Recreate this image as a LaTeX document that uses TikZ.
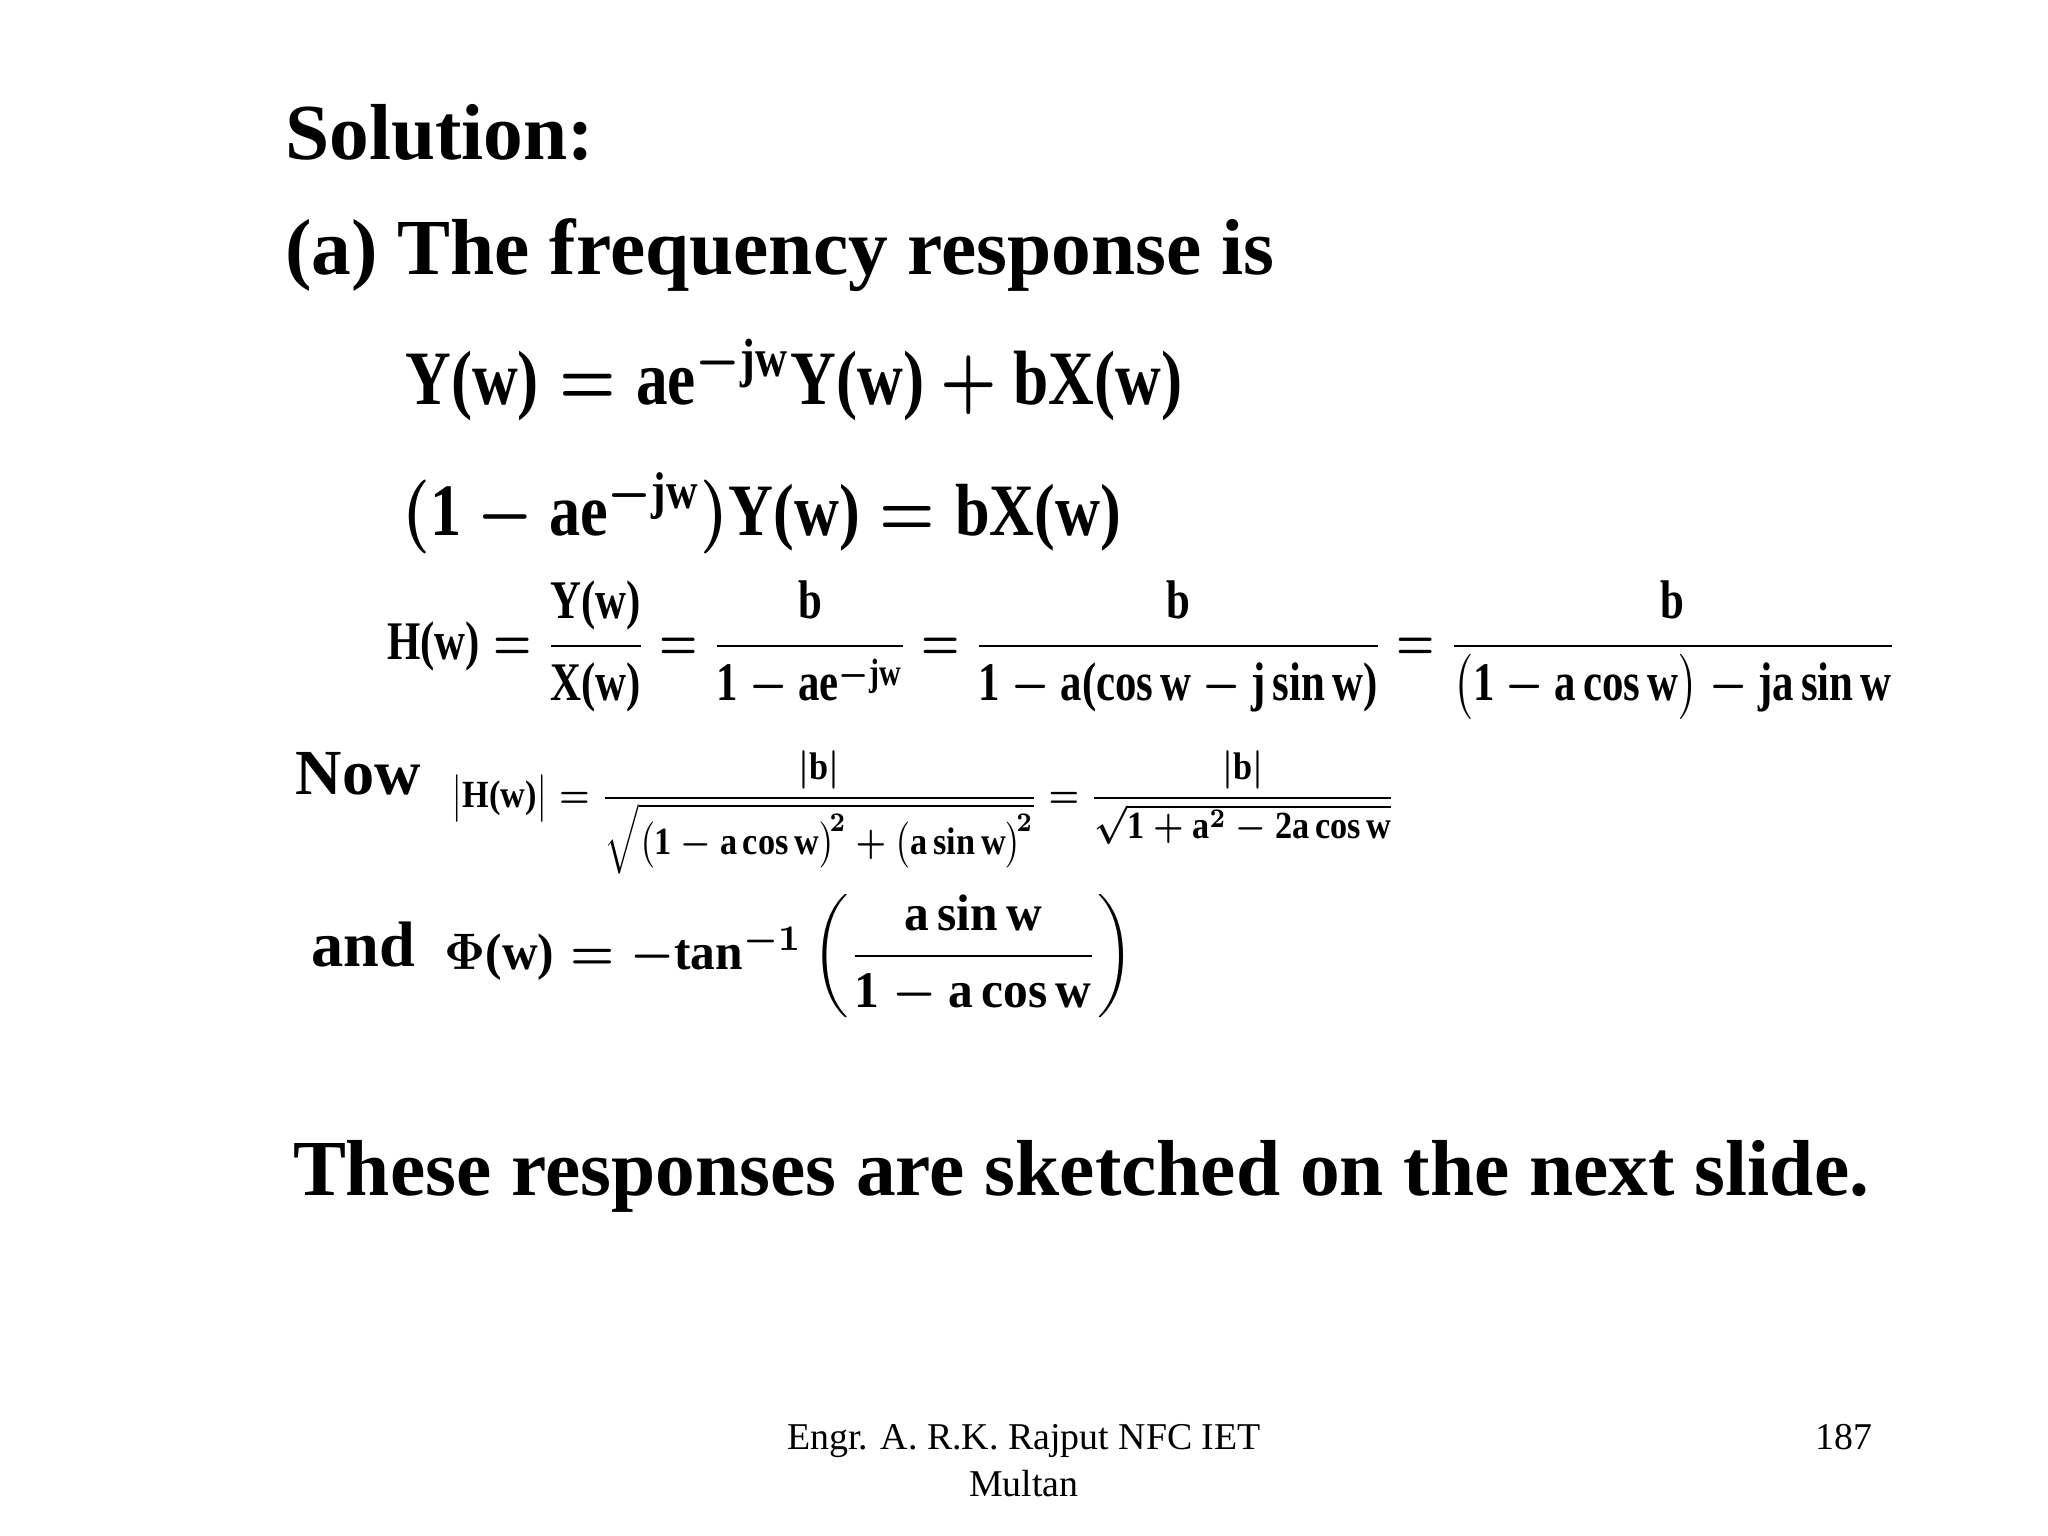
\documentclass[tikz,border=0pt]{standalone}
\usepackage{amsmath}
\usepackage{graphicx}
\usepackage{fontspec}
\setmainfont{Liberation Serif}
\newcommand\tb[1]{\text{\bfseries #1}}
\tikzset{big/.style={anchor=base west,font=\bfseries\fontsize{34.6}{40}\selectfont,inner sep=0pt},
 mid/.style={anchor=base west,font=\bfseries\fontsize{28}{32}\selectfont,inner sep=0pt},
 foot/.style={anchor=base,font=\fontsize{16.5}{20}\selectfont,inner sep=0pt},
 eq/.style={anchor=base west,inner sep=0pt,font=\boldmath}}
\begin{document}
\begin{tikzpicture}[x=0.02cm,y=-0.02cm]
\useasboundingbox[fill=white] (0,0) rectangle (1568,1176);
\node[big] (sol) at (218,122) {Solution:};
\node[big] (a) at (218,210) {(a) The frequency response is};
\node[eq] (e1) at (310,310) {\resizebox{11.9cm}{1.0cm}{$\tb{Y(w)} = \tb{ae}^{-\tb{jw}}\tb{Y(w)} + \tb{bX(w)}$}};
\node[eq] (e2) at (308,410) {\resizebox{11.0cm}{0.96cm}{$(\tb{1}-\tb{ae}^{-\tb{jw}})\tb{Y(w)} = \tb{bX(w)}$}};
\node[eq] (e3) at (296,505) {\resizebox{23.12cm}{1.2cm}{$\tb{H(w)}=\dfrac{\tb{Y(w)}}{\tb{X(w)}}=\dfrac{\tb{b}}{\tb{1}-\tb{ae}^{-\tb{jw}}}=\dfrac{\tb{b}}{\tb{1}-\tb{a(cos\,w}-\tb{j\,sin\,w)}}=\dfrac{\tb{b}}{\bigl(\tb{1}-\tb{a\,cos\,w}\bigr)-\tb{ja\,sin\,w}}$}};
\node[mid] (now) at (226,608) {Now};
\node[anchor=north west,inner sep=0pt,font=\boldmath] (e4) at (345,574) {\resizebox*{14.46cm}{1.9cm}{$\bigl|\tb{H(w)}\bigr|=\dfrac{|\tb{b}|}{\sqrt{\bigl(\tb{1}-\tb{a\,cos\,w}\bigr)^{\!2}+\bigl(\tb{a\,sin\,w}\bigr)^{\!2}}}=\dfrac{|\tb{b}|}{\sqrt{\tb{1}+\tb{a}^2-\tb{2a\,cos\,w}}}$}};
\node[mid] (and) at (238,740) {and};
\node[eq] (e5) at (340,742) {\resizebox{10.56cm}{1.14cm}{$\Phi\tb{(w)}=-\tb{tan}^{-1}\left(\dfrac{\tb{a\,sin\,w}}{\tb{1}-\tb{a\,cos\,w}}\right)$}};
\node[big] (these) at (224,915) {These responses are sketched on the next slide.};
\node[foot] (f1) at (784,1110) {Engr. A. R.K. Rajput NFC IET};
\node[foot] (f2) at (784,1146) {Multan};
\node[foot] (pg) at (1412,1110) {187};
\end{tikzpicture}
\end{document}
